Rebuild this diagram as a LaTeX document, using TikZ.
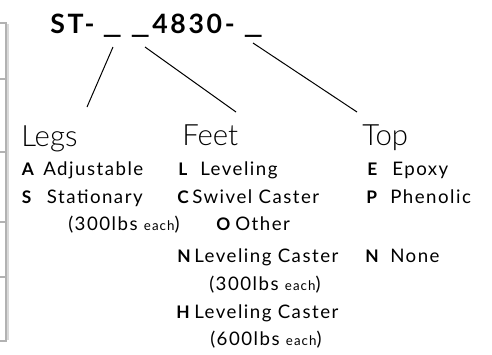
\documentclass[tikz,border=0pt]{standalone}
\usepackage{fontspec}
\setmainfont{Lato}
\newfontfamily\headfont{Lato Light}
\begin{document}
\begin{tikzpicture}
	[ x=0.75pt, y=-0.75pt,
	  code/.style={font=\fontsize{20}{22}\selectfont\bfseries\addfontfeature{LetterSpace=10},inner sep=0pt,anchor=base west},
	  head/.style={font=\fontsize{22}{24}\selectfont\headfont,inner sep=0pt,anchor=base west},
	  letter/.style={font=\fontsize{13}{16}\selectfont\bfseries,inner sep=0pt,anchor=base west},
	  item/.style={font=\fontsize{14}{16}\selectfont\addfontfeature{LetterSpace=8},inner sep=0pt,anchor=base west},
	  lead/.style={black,line width=0.75pt},
	  frame/.style={gray!60,line width=1.2pt} ]

	\useasboundingbox (0,0) rectangle (492,354);

	% cut-off table at the left
	\draw[frame] (0,23) -- (6,23) -- (6,341) -- (0,341);
	\draw[gray!30,line width=1pt] (8,24) -- (8,340);
	\foreach \y in {79,152,222,277}
		\draw[frame] (0,\y) -- (6,\y);

	% part number
	\node[code] (st) at (50,33) {ST-};
	\node[code] (u1) at (102,33) {\scalebox{1.6}[1]{\_}};
	\node[code] (u2) at (130,33) {\scalebox{1.6}[1]{\_}};
	\node[code] (size) at (152,33) {4830-};
	\node[code] (u3) at (243,33) {\scalebox{1.6}[1]{\_}};

	\coordinate (legsfrom) at (113,47);
	\coordinate (feetfrom) at (145,47);
	\coordinate (topfrom) at (253,43);
	\coordinate (legsto) at (87,107);
	\coordinate (feetto) at (236,112);
	\coordinate (topto) at (357,112);

	\draw[lead] (legsfrom) -- (legsto);
	\draw[lead] (feetfrom) -- (feetto);
	\draw[lead] (topfrom) -- (topto);

	% headings
	\node[head] (legs) at (21,146) {Legs};
	\node[head] (feet) at (182,145) {Feet};
	\node[head] (top) at (362,145) {Top};

	% legs
	\node[letter] (legA) at (21.7,175) {A};
	\node[item] (legAt) at (43,175) {Adjustable};
	\node[letter] (legS) at (21.7,203) {S};
	\node[item] (legSt) at (46.7,203) {Stationary};
	\node[item] (legSw) at (68,230) {(300lbs {\fontsize{10}{12}\selectfont each})};

	% feet
	\node[letter] (footL) at (178,175) {L};
	\node[item] (footLt) at (200,175) {Leveling};
	\node[letter] (footC) at (177,203) {C};
	\node[item] (footCt) at (192,203) {Swivel Caster};
	\node[letter] (footO) at (216,230) {O};
	\node[item] (footOt) at (235,230) {Other};
	\node[letter] (footN) at (177,262) {N};
	\node[item] (footNt) at (194,262) {Leveling Caster};
	\node[item] (footNw) at (209,290) {(300lbs {\fontsize{10}{12}\selectfont each})};
	\node[letter] (footH) at (176,318) {H};
	\node[item] (footHt) at (194,318) {Leveling Caster};
	\node[item] (footHw) at (210,345) {(600lbs {\fontsize{10}{12}\selectfont each})};

	% top
	\node[letter] (topE) at (367,175) {E};
	\node[item] (topEt) at (392,175) {Epoxy};
	\node[letter] (topP) at (366,203) {P};
	\node[item] (topPt) at (390,203) {Phenolic};
	\node[letter] (topN) at (365,262) {N};
	\node[item] (topNt) at (390,262) {None};

\end{tikzpicture}
\end{document}
